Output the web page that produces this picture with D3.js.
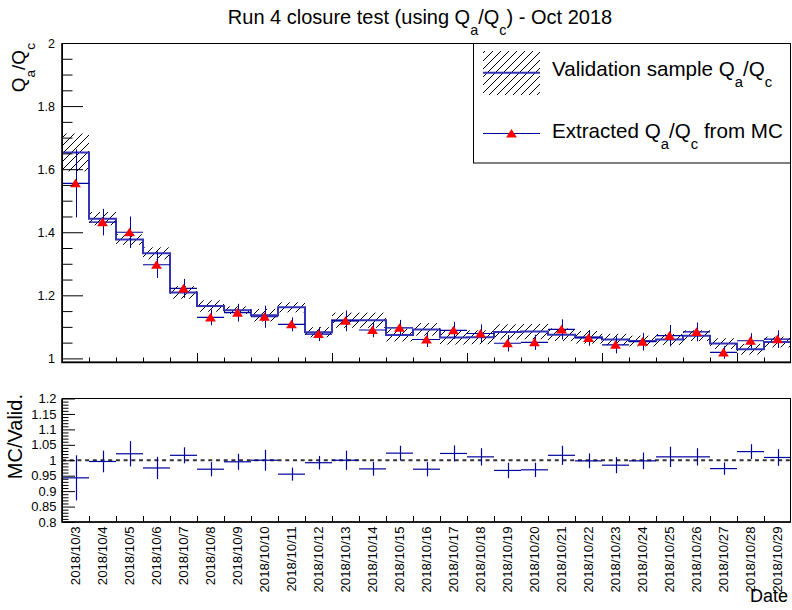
<!DOCTYPE html>
<html>
<head>
<meta charset="utf-8">
<script src="https://cdn.jsdelivr.net/npm/d3@7"></script>
<style>
  html, body { margin: 0; padding: 0; background: #fff; }
  svg { display: block; font-family: "Liberation Sans", Arial, Helvetica, sans-serif; }
</style>
</head>
<body>
<svg id="chart" width="792" height="610"></svg>
<script>
// ---- data: one entry per run day ----
const dates = [
  "2018/10/3", "2018/10/4", "2018/10/5", "2018/10/6", "2018/10/7", "2018/10/8", "2018/10/9",
  "2018/10/10", "2018/10/11", "2018/10/12", "2018/10/13", "2018/10/14", "2018/10/15", "2018/10/16",
  "2018/10/17", "2018/10/18", "2018/10/19", "2018/10/20", "2018/10/21", "2018/10/22", "2018/10/23",
  "2018/10/24", "2018/10/25", "2018/10/26", "2018/10/27", "2018/10/28", "2018/10/29"
];
// validation sample Qa/Qc and its uncertainty (hatched band)
const validation = [1.653, 1.443, 1.377, 1.333, 1.209, 1.166, 1.153, 1.137, 1.162, 1.083, 1.121, 1.121, 1.074, 1.092,
                    1.066, 1.067, 1.084, 1.085, 1.075, 1.067, 1.060, 1.055, 1.060, 1.072, 1.047, 1.029, 1.052];
const validationErr = [0.060, 0.021, 0.017, 0.019, 0.020, 0.018, 0.012, 0.020, 0.016, 0.016, 0.024, 0.024, 0.020, 0.020,
                       0.022, 0.022, 0.024, 0.024, 0.020, 0.020, 0.018, 0.017, 0.017, 0.017, 0.017, 0.017, 0.017];
// Qa/Qc extracted from MC
const extracted = [1.555, 1.432, 1.400, 1.297, 1.222, 1.130, 1.145, 1.132, 1.108, 1.077, 1.119, 1.090, 1.097, 1.060,
                   1.089, 1.079, 1.048, 1.051, 1.092, 1.065, 1.043, 1.053, 1.072, 1.084, 1.019, 1.056, 1.061];
const extractedErr = [0.108, 0.042, 0.050, 0.042, 0.030, 0.025, 0.028, 0.035, 0.022, 0.022, 0.033, 0.023, 0.025, 0.024,
                      0.027, 0.029, 0.026, 0.024, 0.032, 0.025, 0.027, 0.028, 0.034, 0.030, 0.020, 0.024, 0.028];
// ratio MC / validation
const ratio = [0.943, 0.996, 1.021, 0.975, 1.016, 0.971, 0.995, 1.000, 0.955, 0.992, 1.000, 0.972, 1.023, 0.971,
               1.022, 1.011, 0.967, 0.969, 1.016, 0.998, 0.984, 0.998, 1.011, 1.011, 0.973, 1.028, 1.009];
const ratioErr = [0.073, 0.035, 0.041, 0.036, 0.026, 0.023, 0.026, 0.034, 0.021, 0.022, 0.031, 0.022, 0.024, 0.023,
                  0.026, 0.028, 0.025, 0.023, 0.031, 0.024, 0.026, 0.027, 0.033, 0.028, 0.020, 0.024, 0.027];

const topTicks = [1, 1.2, 1.4, 1.6, 1.8, 2];
const ratioTicks = [0.8, 0.85, 0.9, 0.95, 1, 1.05, 1.1, 1.15, 1.2];

// ---- layout ----
const svg = d3.select("#chart");
const left = 62, right = 791;
const topY0 = 43, topY1 = 362.5;
const botY0 = 398.5, botY1 = 522;
const FONT = "'Liberation Sans', Arial, Helvetica, sans-serif";
const VAL_BLUE = "#3434b4";
const MC_BLUE = "#00009c";

const x = d3.scaleBand().domain(dates).range([left, right]).padding(0);
const bw = x.bandwidth();
const xEdge = d3.scaleLinear().domain([0, dates.length]).range([left, right]);
const yTop = d3.scaleLinear().domain([0.987, 2]).range([topY1, topY0]);
const yBot = d3.scaleLinear().domain([0.8, 1.2]).range([botY1, botY0]);

const defs = svg.append("defs");
const hatch = defs.append("pattern")
  .attr("id", "hatch").attr("patternUnits", "userSpaceOnUse")
  .attr("width", 8).attr("height", 8);
hatch.append("path")
  .attr("d", "M-2,2 L2,-2 M0,8 L8,0 M6,10 L10,6")
  .attr("stroke", "#000").attr("stroke-width", 1);
defs.append("clipPath").attr("id", "clipTop")
  .append("rect").attr("x", left).attr("y", topY0).attr("width", right - left).attr("height", topY1 - topY0);

// text with subscripts: parts = [[text, isSub], ...]
function richText(sel, parts, fs) {
  let sub = false;
  parts.forEach(([t, s]) => {
    const ts = sel.append("tspan").text(t);
    if (s && !sub) ts.attr("dy", 0.55 * fs).attr("font-size", 0.72 * fs);
    else if (!s && sub) ts.attr("dy", -0.55 * fs).attr("font-size", fs);
    else if (s) ts.attr("font-size", 0.72 * fs);
    sub = s;
  });
  return sel;
}

const triPath = "M0,-4.6 L5.4,4 L-5.4,4 Z";

// ---- title ----
richText(svg.append("text").attr("x", 420).attr("y", 24).attr("text-anchor", "middle")
  .attr("font-family", FONT).attr("font-size", 20).attr("fill", "#000"),
  [["Run 4 closure test (using Q", false], ["a", true], ["/Q", false], ["c", true], [") - Oct 2018", false]], 20);

// ---- top panel ----
const gTop = svg.append("g");
const plotTop = gTop.append("g").attr("clip-path", "url(#clipTop)");

// validation uncertainty band
plotTop.selectAll("rect.band").data(dates).join("rect")
  .attr("class", "band")
  .attr("x", d => x(d)).attr("width", bw)
  .attr("y", (d, i) => yTop(validation[i] + validationErr[i]))
  .attr("height", (d, i) => yTop(validation[i] - validationErr[i]) - yTop(validation[i] + validationErr[i]))
  .attr("fill", "url(#hatch)");

// validation histogram outline
const stepPts = [];
dates.forEach((d, i) => {
  stepPts.push([x(d), yTop(validation[i])]);
  stepPts.push([x(d) + bw, yTop(validation[i])]);
});
plotTop.append("path")
  .attr("d", d3.line()(stepPts))
  .attr("fill", "none").attr("stroke", VAL_BLUE).attr("stroke-width", 2);

// MC points with errors
const mc = plotTop.selectAll("g.mc").data(dates).join("g").attr("class", "mc");
mc.append("line")
  .attr("x1", d => Math.round(x(d) + bw / 2) + 0.5).attr("x2", d => Math.round(x(d) + bw / 2) + 0.5)
  .attr("y1", (d, i) => yTop(extracted[i] + extractedErr[i]))
  .attr("y2", (d, i) => yTop(extracted[i] - extractedErr[i]))
  .attr("stroke", MC_BLUE).attr("stroke-width", 1);
mc.append("line")
  .attr("x1", d => x(d)).attr("x2", d => x(d) + bw)
  .attr("y1", (d, i) => yTop(extracted[i])).attr("y2", (d, i) => yTop(extracted[i]))
  .attr("stroke", MC_BLUE).attr("stroke-width", 1.2);
mc.append("path")
  .attr("d", triPath)
  .attr("transform", (d, i) => `translate(${x(d) + bw / 2},${yTop(extracted[i])})`)
  .attr("fill", "#ff0000");

// top axes
function styleAxis(g) {
  g.select(".domain").remove();
  g.selectAll(".tick line").attr("stroke", "#000").attr("stroke-width", 1);
  g.selectAll(".tick text").attr("font-family", FONT).attr("fill", "#000");
}
const topMinor = d3.range(1.05, 2, 0.05).filter(v => Math.abs(v * 5 - Math.round(v * 5)) > 1e-6);
gTop.append("g").attr("transform", `translate(${left},0)`)
  .call(d3.axisLeft(yTop).tickValues(topMinor).tickSize(-10.5).tickFormat(""))
  .call(styleAxis);
gTop.append("g").attr("transform", `translate(${left},0)`)
  .call(d3.axisLeft(yTop).tickValues(topTicks).tickSize(-21).tickPadding(7).tickFormat(d3.format("~g")))
  .call(styleAxis)
  .call(g => g.selectAll(".tick text").attr("font-size", 12.5));
gTop.append("g").attr("transform", `translate(0,${topY1})`)
  .call(d3.axisBottom(xEdge).tickValues(d3.range(1, dates.length)).tickSize(-5).tickFormat(""))
  .call(styleAxis);
gTop.append("g").attr("transform", `translate(0,${topY1})`)
  .call(d3.axisBottom(xEdge).tickValues(d3.range(5, dates.length, 5)).tickSize(-9.5).tickFormat(""))
  .call(styleAxis);

// frame
gTop.append("rect").attr("x", left + 0.5).attr("y", topY0 + 0.5)
  .attr("width", right - left - 1).attr("height", topY1 - topY0 - 1)
  .attr("fill", "none").attr("stroke", "#000").attr("stroke-width", 1);
gTop.append("path").attr("d", `M${left},${topY0} V${topY1} H${right}`)
  .attr("fill", "none").attr("stroke", "#000").attr("stroke-width", 1.6);

// y title
richText(gTop.append("text").attr("transform", "translate(25,43) rotate(-90)")
  .attr("text-anchor", "end").attr("font-family", FONT).attr("font-size", 19).attr("fill", "#000"),
  [["Q", false], ["a", true], ["/Q", false], ["c", true]], 19);

// legend
const leg = svg.append("g");
leg.append("rect").attr("x", 473.5).attr("y", 43.5).attr("width", 317).attr("height", 119.5)
  .attr("fill", "#fff").attr("stroke", "#000").attr("stroke-width", 1);
leg.append("rect").attr("x", 483).attr("y", 51).attr("width", 57).attr("height", 44).attr("fill", "url(#hatch)");
leg.append("line").attr("x1", 483).attr("x2", 540).attr("y1", 72.7).attr("y2", 72.7)
  .attr("stroke", VAL_BLUE).attr("stroke-width", 2);
richText(leg.append("text").attr("x", 552).attr("y", 75.5).attr("font-family", FONT).attr("font-size", 20.6).attr("fill", "#000"),
  [["Validation sample Q", false], ["a", true], ["/Q", false], ["c", true]], 20.6);
leg.append("line").attr("x1", 483).attr("x2", 540).attr("y1", 133.5).attr("y2", 133.5)
  .attr("stroke", MC_BLUE).attr("stroke-width", 1.2);
leg.append("path").attr("d", triPath).attr("transform", "translate(511.5,133.5)").attr("fill", "#ff0000");
richText(leg.append("text").attr("x", 552).attr("y", 137.5).attr("font-family", FONT).attr("font-size", 20.6).attr("fill", "#000"),
  [["Extracted Q", false], ["a", true], ["/Q", false], ["c", true], [" from MC", false]], 20.6);

// ---- ratio panel ----
const gBot = svg.append("g");
gBot.append("line").attr("x1", left).attr("x2", right).attr("y1", yBot(1)).attr("y2", yBot(1))
  .attr("stroke", "#333").attr("stroke-width", 2).attr("stroke-dasharray", "4,3.7");

const rp = gBot.selectAll("g.ratio").data(dates).join("g").attr("class", "ratio");
rp.append("line")
  .attr("x1", d => Math.round(x(d) + bw / 2) + 0.5).attr("x2", d => Math.round(x(d) + bw / 2) + 0.5)
  .attr("y1", (d, i) => yBot(ratio[i] + ratioErr[i]))
  .attr("y2", (d, i) => yBot(ratio[i] - ratioErr[i]))
  .attr("stroke", MC_BLUE).attr("stroke-width", 1.2);
rp.append("line")
  .attr("x1", d => x(d)).attr("x2", d => x(d) + bw)
  .attr("y1", (d, i) => yBot(ratio[i])).attr("y2", (d, i) => yBot(ratio[i]))
  .attr("stroke", MC_BLUE).attr("stroke-width", 1.2);

const botMinor = d3.range(0.81, 1.2, 0.01).filter(v => Math.abs(v * 20 - Math.round(v * 20)) > 1e-6);
gBot.append("g").attr("transform", `translate(${left},0)`)
  .call(d3.axisLeft(yBot).tickValues(botMinor).tickSize(-6.5).tickFormat(""))
  .call(styleAxis);
gBot.append("g").attr("transform", `translate(${left},0)`)
  .call(d3.axisLeft(yBot).tickValues(ratioTicks).tickSize(-13).tickPadding(5.5).tickFormat(d3.format("~g")))
  .call(styleAxis)
  .call(g => g.selectAll(".tick text").attr("font-size", 13));
gBot.append("g").attr("transform", `translate(0,${botY1})`)
  .call(d3.axisBottom(xEdge).tickValues(d3.range(1, dates.length)).tickSize(-6).tickFormat(""))
  .call(styleAxis);

gBot.append("rect").attr("x", left + 0.5).attr("y", botY0)
  .attr("width", right - left - 1).attr("height", botY1 - botY0)
  .attr("fill", "none").attr("stroke", "#000").attr("stroke-width", 1);
gBot.append("path").attr("d", `M${left},${botY0} V${botY1} H${right}`)
  .attr("fill", "none").attr("stroke", "#000").attr("stroke-width", 1.6);

// date labels
gBot.selectAll("text.date").data(dates).join("text")
  .attr("class", "date")
  .attr("transform", d => `translate(${x(d) + bw / 2},526.5) rotate(-90)`)
  .attr("text-anchor", "end").attr("dy", "0.36em")
  .attr("font-family", FONT).attr("font-size", 13.2).attr("fill", "#000")
  .text(d => d);

gBot.append("text").attr("transform", "translate(21.5,394) rotate(-90)")
  .attr("text-anchor", "end").attr("font-family", FONT).attr("font-size", 20).attr("fill", "#000")
  .text("MC/Valid.");

gBot.append("text").attr("x", 788).attr("y", 601.5).attr("text-anchor", "end")
  .attr("font-family", FONT).attr("font-size", 18).attr("fill", "#000")
  .text("Date");
</script>
</body>
</html>
